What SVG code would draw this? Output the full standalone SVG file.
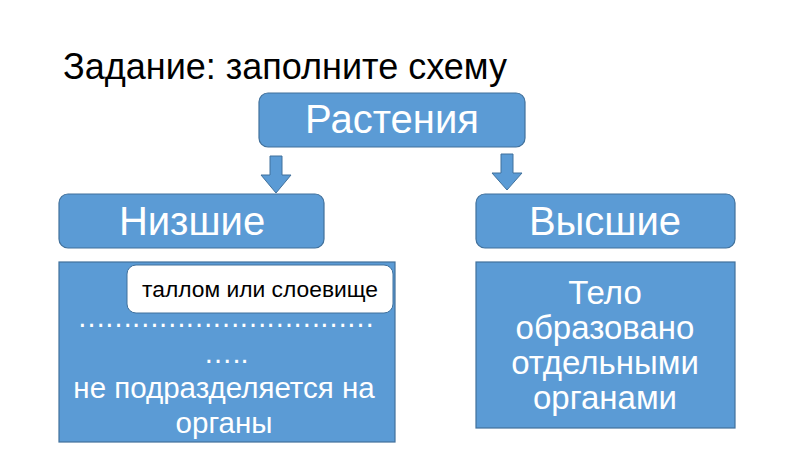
<svg xmlns="http://www.w3.org/2000/svg" width="800" height="450" viewBox="0 0 800 450">
<style>
.box{fill:#5B9BD5;stroke:#41719C;stroke-width:1.2}
.arr{fill:#5B9BD5;stroke:#41719C;stroke-width:1}
.w{fill:#FFFFFF;font-family:"Liberation Sans",Arial,sans-serif;text-anchor:middle}
.k{fill:#000000;font-family:"Liberation Sans",Arial,sans-serif}
</style>
<rect width="800" height="450" fill="#FFFFFF"/>
<text class="k" x="63" y="79" font-size="36">Задание: заполните схему</text>
<g id="connectors">
<path class="arr" d="M270,156 H282 V175 H291 L276,193 L261,175 H270 Z"/>
<path class="arr" d="M501,154 H513 V173 H522 L507,190 L492,173 H501 Z"/>
</g>
<g id="rastenia">
<rect class="box" x="259" y="93" width="266" height="54" rx="9"/>
<text class="w" x="392" y="133" font-size="40">Растения</text>
</g>
<g id="nizshie">
<rect class="box" x="59" y="194" width="265" height="54" rx="9"/>
<text class="w" x="192" y="235" font-size="40">Низшие</text>
</g>
<g id="vysshie">
<rect class="box" x="476" y="194" width="259" height="54" rx="9"/>
<text class="w" x="605" y="235" font-size="40">Высшие</text>
</g>
<g id="nizshie-desc">
<rect class="box" x="59" y="262" width="336" height="180"/>
<text class="w" x="226" y="327" font-size="29" textLength="298" lengthAdjust="spacing">……………………………</text>
<text class="w" x="226" y="363" font-size="29">…..</text>
<text class="w" x="224" y="398" font-size="29.5">не подразделяется на</text>
<text class="w" x="224" y="433" font-size="29.5">органы</text>
</g>
<g id="tallom">
<rect x="127" y="265" width="266" height="48" rx="9" fill="#FFFFFF" stroke="#41719C" stroke-width="1"/>
<text class="k" x="260" y="297" font-size="22.8" text-anchor="middle">таллом или слоевище</text>
</g>
<g id="vysshie-desc">
<rect class="box" x="476" y="262" width="259" height="166"/>
<text class="w" x="605" y="304" font-size="33">Тело</text>
<text class="w" x="605" y="339" font-size="33">образовано</text>
<text class="w" x="605" y="374" font-size="33">отдельными</text>
<text class="w" x="605" y="409" font-size="33">органами</text>
</g>
</svg>
